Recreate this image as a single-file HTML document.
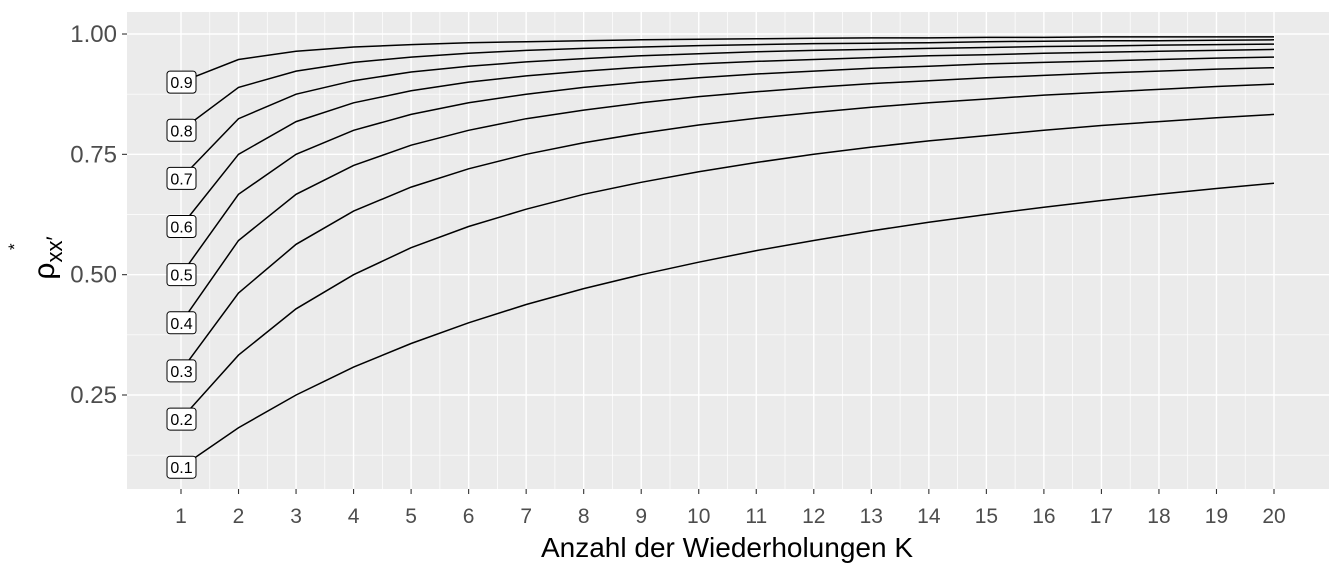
<!DOCTYPE html>
<html><head><meta charset="utf-8"><style>
body{margin:0;background:#fff;}
svg{display:block;font-family:"Liberation Sans",sans-serif;}
</style></head><body>
<svg id="chart" width="1344" height="576">
<rect x="127" y="12" width="1202" height="477" fill="#ebebeb"/>
<g id="grid"></g><g id="lines"></g><g id="labels"></g><g id="axes"></g>
<text x="727" y="557" text-anchor="middle" font-size="28" fill="#000">Anzahl der Wiederholungen K</text>
<g transform="translate(54,258) rotate(-90)">
<text x="0" y="0" text-anchor="middle" font-size="30" fill="#000">ρ<tspan font-size="22" dy="8">xx′</tspan></text>
<text x="8" y="-34" font-size="17" fill="#000">*</text>
</g>
</svg>
<script>
const ks=[1,2,3,4,5,6,7,8,9,10,11,12,13,14,15,16,17,18,19,20];
const seriesNames=["0.1","0.2","0.3","0.4","0.5","0.6","0.7","0.8","0.9"];
const s01=[.1,.182,.25,.308,.357,.4,.438,.471,.5,.526,.55,.571,.591,.609,.625,.64,.654,.667,.679,.69];
const s02=[.2,.333,.429,.5,.556,.6,.636,.667,.692,.714,.733,.75,.765,.778,.789,.8,.81,.818,.826,.833];
const s03=[.3,.462,.563,.632,.682,.72,.75,.774,.794,.811,.825,.837,.848,.857,.865,.873,.879,.885,.891,.896];
const s04=[.4,.571,.667,.727,.769,.8,.824,.842,.857,.87,.88,.889,.897,.903,.909,.914,.919,.923,.927,.93];
const s05=[.5,.667,.75,.8,.833,.857,.875,.889,.9,.909,.917,.923,.929,.933,.938,.941,.944,.947,.95,.952];
const s06=[.6,.75,.818,.857,.882,.9,.913,.923,.931,.938,.943,.947,.951,.955,.957,.96,.962,.964,.966,.968];
const s07=[.7,.824,.875,.903,.921,.933,.942,.949,.955,.959,.963,.966,.968,.97,.972,.974,.975,.977,.978,.979];
const s08=[.8,.889,.923,.941,.952,.96,.966,.97,.973,.976,.978,.98,.981,.982,.984,.985,.986,.986,.987,.988];
const s09=[.9,.947,.964,.973,.978,.982,.984,.986,.988,.989,.99,.991,.992,.992,.993,.993,.994,.994,.994,.994];
const series=[s01,s02,s03,s04,s05,s06,s07,s08,s09];
const yTicks=[0.25,0.5,0.75,1.0];
const yTickLabels=["0.25","0.50","0.75","1.00"];
const yMinor=[0.125,0.375,0.625,0.875];

const NS="http://www.w3.org/2000/svg";
const xs=k=>181+(k-1)*(1093/19);
const ys=v=>395-(v-0.25)*(120.33/0.25);
function mk(tag,attrs,parent){const e=document.createElementNS(NS,tag);for(const a in attrs)e.setAttribute(a,attrs[a]);parent.appendChild(e);return e;}
const grid=document.getElementById('grid'),lines=document.getElementById('lines'),labels=document.getElementById('labels'),axes=document.getElementById('axes');
yMinor.forEach(v=>{const l=mk('line',{x1:127,x2:1329,y1:ys(v),y2:ys(v),stroke:'#fff','stroke-width':0.7},grid);

});
ks.forEach(k=>{if(k<20){const l=mk('line',{x1:xs(k+0.5),x2:xs(k+0.5),y1:12,y2:489,stroke:'#fff','stroke-width':0.7},grid);

}
const l=mk('line',{x1:xs(k),x2:xs(k),y1:12,y2:489,stroke:'#fff','stroke-width':1.4},grid);


const t=mk('line',{x1:xs(k),x2:xs(k),y1:489,y2:494,stroke:'#333','stroke-width':1.1},axes);


const tx=mk('text',{x:xs(k),y:523,'text-anchor':'middle','font-size':21,fill:'#4d4d4d'},axes);tx.textContent=k;

});
yTicks.forEach((v,i)=>{const l=mk('line',{x1:127,x2:1329,y1:ys(v),y2:ys(v),stroke:'#fff','stroke-width':1.4},grid);


const t=mk('line',{x1:122,x2:127,y1:ys(v),y2:ys(v),stroke:'#333','stroke-width':1.1},axes);


const tx=mk('text',{x:117,y:ys(v)+8,'text-anchor':'end','font-size':24,fill:'#4d4d4d'},axes);tx.textContent=yTickLabels[i];

});
series.forEach((s,i)=>{const d=s.map((v,j)=>(j?'L':'M')+xs(ks[j]).toFixed(1)+','+ys(v).toFixed(1)).join('');
const p=mk('path',{d:d,fill:'none',stroke:'#000','stroke-width':1.5},lines);


const cx=xs(ks[0]),cy=ys(s[0]);
const g=mk('g',{},labels);


mk('rect',{x:cx-14,y:cy-11,width:29,height:22,rx:3,fill:'#fff',stroke:'#000','stroke-width':1},g);
const t=mk('text',{x:cx+0.5,y:cy+6,'text-anchor':'middle','font-size':16,fill:'#000'},g);t.textContent=seriesNames[i];});
</script>
</body></html>
